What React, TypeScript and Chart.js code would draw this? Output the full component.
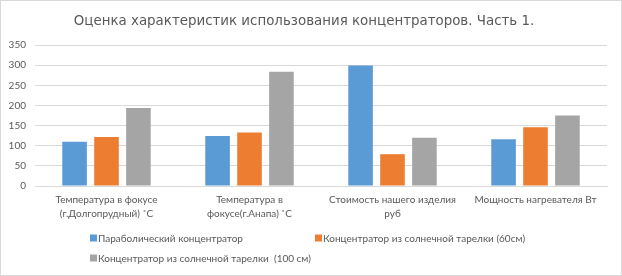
import React, { useEffect, useRef } from "react";
import { Chart, registerables } from "chart.js";

Chart.register(...registerables);

const titleText = "Оценка характеристик использования концентраторов. Часть 1.";
const categories: string[][] = [
  ["Температура в фокусе", "(г.Долгопрудный) ˚С"],
  ["Температура в", "фокусе(г.Анапа) ˚С"],
  ["Стоимость нашего изделия", "руб"],
  ["Мощность нагревателя Вт"],
];
const seriesNames = [
  "Параболический концентратор",
  "Концентратор из солнечной тарелки (60см)",
  "Концентратор из солнечной тарелки  (100 см)",
];
const parabolic = [110, 124, 299, 116];
const dish60 = [122, 133, 79, 146];
const dish100 = [194, 284, 120, 175];
const yMin = 0;
const yMax = 350;
const yStep = 50;
const colors = ["#5B9BD5", "#ED7D31", "#A5A5A5"];

const TEXT = "#595959";
const GRID = "#D9D9D9";
const LABEL_FONT = "Lato";

const legendPlugin = {
  id: "gridLegend",
  afterDraw(chart: any) {
    const ctx = chart.ctx as CanvasRenderingContext2D;
    const colX = [89, 314];
    const rowY = [237, 257];
    ctx.save();
    ctx.font = `10px "${LABEL_FONT}"`;
    ctx.textBaseline = "middle";
    ctx.textAlign = "left";
    chart.data.datasets.forEach((ds: any, i: number) => {
      const col = i % 2;
      const row = Math.floor(i / 2);
      const x = colX[col];
      const y = rowY[row];
      ctx.fillStyle = ds.backgroundColor;
      ctx.fillRect(x, y - 3.5, 7, 7);
      ctx.fillStyle = TEXT;
      ctx.fillText(ds.label, x + 8, y + 0.5);
    });
    ctx.restore();
  },
};

export default function App() {
  const ref = useRef<HTMLCanvasElement>(null);
  useEffect(() => {
    if (!ref.current) return;
    const chart = new Chart(ref.current, {
      type: "bar",
      data: {
        labels: categories,
        datasets: [parabolic, dish60, dish100].map((d, i) => ({
          label: seriesNames[i],
          data: d,
          backgroundColor: colors[i],
          borderWidth: 0,
          categoryPercentage: 0.67,
          barPercentage: 0.77,
        })),
      },
      options: {
        animation: false,
        responsive: true,
        maintainAspectRatio: false,
        layout: { padding: { left: 0, right: 14, bottom: 52, top: 0 } },
        plugins: {
          legend: { display: false },
          tooltip: { enabled: false },
          title: {
            display: true,
            text: titleText,
            color: TEXT,
            font: { family: "DejaVu Sans", size: 13.4, weight: "normal", lineHeight: 1.2 },
            padding: { top: 12, bottom: 16 },
          },
        },
        scales: {
          x: {
            grid: { display: false, drawTicks: false },
            border: { display: true, color: GRID, width: 1 },
            ticks: {
              color: TEXT,
              font: { family: LABEL_FONT, size: 10, lineHeight: 1.4 },
              padding: 7,
              autoSkip: false,
              maxRotation: 0,
              minRotation: 0,
            },
            afterFit: (s: any) => {
              s.height = 37;
            },
          },
          y: {
            min: yMin,
            max: yMax,
            grid: { color: GRID, drawTicks: false },
            border: { display: false },
            ticks: {
              stepSize: yStep,
              color: TEXT,
              font: { family: LABEL_FONT, size: 10 },
              padding: 9,
            },
            afterFit: (s: any) => {
              s.width = 34;
            },
          },
        },
      },
      plugins: [legendPlugin],
    });
    return () => chart.destroy();
  }, []);
  return (
    <div
      style={{
        position: "fixed",
        left: 0,
        top: 0,
        width: 622,
        height: 276,
        boxSizing: "border-box",
        border: "1px solid #D9D9D9",
        background: "#fff",
      }}
    >
      <canvas ref={ref} />
    </div>
  );
}
